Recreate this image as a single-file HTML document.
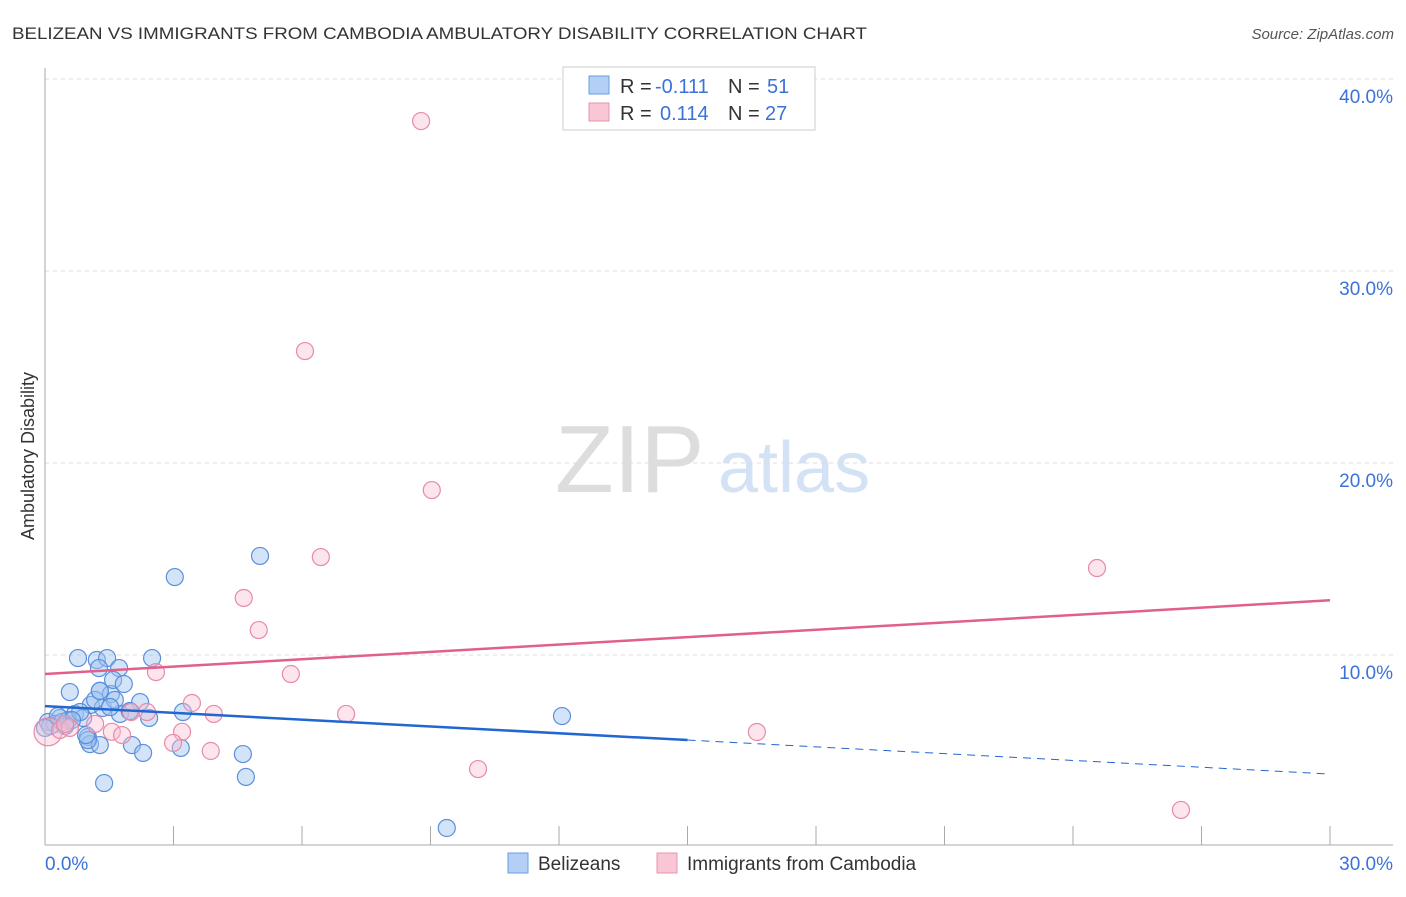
<!DOCTYPE html>
<html><head><meta charset="utf-8"><style>
body{margin:0;background:#fff;font-family:"Liberation Sans",sans-serif}
svg text{font-family:"Liberation Sans",sans-serif}
</style></head><body>
<svg width="1406" height="892" id="c">
<text x="12" y="39" font-size="17" fill="#333" textLength="855" lengthAdjust="spacingAndGlyphs">BELIZEAN VS IMMIGRANTS FROM CAMBODIA AMBULATORY DISABILITY CORRELATION CHART</text>
<text x="1394" y="39" font-size="15" fill="#555" text-anchor="end" font-style="italic">Source: ZipAtlas.com</text>
<text x="555" y="492" font-size="96" fill="#ddd" font-family="Liberation Serif">ZIP</text>
<text x="718" y="492" font-size="72" fill="#d4e2f5">atlas</text>
<text transform="translate(34,456) rotate(-90)" font-size="18" fill="#333" text-anchor="middle">Ambulatory Disability</text>
<g id="grid"></g><g id="marks"></g>
<g>
<rect x="563" y="67" width="252" height="63" fill="#fff" stroke="#ccc"/>
<rect x="589" y="76" width="20" height="18" fill="#b3cff5" stroke="#6a9ee0"/>
<rect x="589" y="103" width="20" height="18" fill="#f9c6d5" stroke="#e894ae"/>
<text x="620" y="93" font-size="20" fill="#333">R =</text><text x="655" y="93" font-size="20" fill="#3a72d8">-0.111</text>
<text x="728" y="93" font-size="20" fill="#333">N =</text><text x="767" y="93" font-size="20" fill="#3a72d8">51</text>
<text x="620" y="120" font-size="20" fill="#333">R =</text><text x="660" y="120" font-size="20" fill="#3a72d8">0.114</text>
<text x="728" y="120" font-size="20" fill="#333">N =</text><text x="765" y="120" font-size="20" fill="#3a72d8">27</text>
</g>
<g>
<rect x="508" y="853" width="20" height="20" fill="#b3cff5" stroke="#6a9ee0"/>
<text x="538" y="870" font-size="19" fill="#333">Belizeans</text>
<rect x="657" y="853" width="20" height="20" fill="#f9c6d5" stroke="#e894ae"/>
<text x="687" y="870" font-size="19" fill="#333">Immigrants from Cambodia</text>
</g>
</svg>
<script>
const yTicks=[10,20,30,40];
const xTickLabels=["0.0%","30.0%"];
const blueX=[0.77,1.21,1.45,2.5,1.26,1.73,0.58,1.28,1.54,1.59,1.84,2.22,1.07,1.35,1.75,1.98,2.43,3.22,0.7,0.35,0.07,0.23,0.4,0.54,0.89,0.12,1.0,1.05,1.28,2.03,2.29,3.17,4.62,4.69,1.38,3.03,5.02,12.07,9.38,1.0,0.96,0.82,0.63,1.17,0.47,1.98,1.63,1.28,0.0,0.3,1.52];
const blueY=[9.84,9.74,9.84,9.84,9.32,9.32,8.07,8.13,7.97,8.7,8.49,7.55,7.4,7.24,6.93,7.08,6.72,7.03,6.93,6.72,6.51,6.41,6.51,6.61,6.72,6.3,5.73,5.36,5.31,5.31,4.9,5.16,4.84,3.65,3.33,14.06,15.16,6.82,0.99,5.57,5.83,7.03,6.61,7.66,6.3,7.08,7.66,8.13,6.2,6.82,7.29];
const pinkX=[8.78,6.07,9.03,6.44,24.56,4.64,4.99,5.74,2.59,3.43,3.94,7.03,2.01,2.38,1.56,1.8,3.2,2.99,3.87,10.11,16.62,26.52,0.07,0.35,1.17,0.58,0.47];
const pinkY=[37.81,25.83,18.59,15.1,14.53,12.97,11.3,9.01,9.11,7.5,6.93,6.93,7.03,7.03,6.0,5.83,6.0,5.42,5.0,4.06,5.99,1.93,6.0,6.1,6.41,6.2,6.41];
const blueFit=[7.34,-0.118]; const pinkFit=[9.01,0.128];
const X=v=>45+v/30*1285, Y=v=>847-v*19.2;
const NS="http://www.w3.org/2000/svg";
const g=document.getElementById('grid'), m=document.getElementById('marks');
function el(t,a,p){const e=document.createElementNS(NS,t);for(const k in a)e.setAttribute(k,a[k]);p.appendChild(e);return e;}
yTicks.forEach(t=>{
 const l=el('line',{x1:45,x2:1393,y1:Y(t),y2:Y(t),stroke:'#ddd','stroke-dasharray':'4,4'},g);
 
 
 const tx=el('text',{x:1393,y:Y(t)+24,'font-size':19,fill:'#3a72d8','text-anchor':'end'},g);
 tx.textContent=t.toFixed(1)+'%';
 
 
});
const ax=el('line',{x1:45,x2:45,y1:68,y2:845,stroke:'#aaa'},g);


const bx=el('line',{x1:45,x2:1393,y1:845,y2:845,stroke:'#aaa'},g);


for(let i=0;i<=10;i++){const t=el('line',{x1:X(i*3),x2:X(i*3),y1:826,y2:845,stroke:'#aaa'},g);
 
 }
xTickLabels.forEach((s,i)=>{const t=el('text',{x:i?1393:45,y:870,'font-size':19,fill:'#3a72d8','text-anchor':i?'end':'start'},g);t.textContent=s;
 
 });
blueX.forEach((x,i)=>{const c=el('circle',{cx:X(x),cy:Y(blueY[i]),r:8.5,fill:'rgba(160,195,240,0.45)',stroke:'#5b8fdc','stroke-width':1.2},m);
 
 });
pinkX.forEach((x,i)=>{const c=el('circle',{cx:X(x),cy:Y(pinkY[i]),r:i==22?14:8.5,fill:'rgba(248,190,208,0.4)',stroke:'#e88aa8','stroke-width':1.2},m);
 
 });
const f=(p,x)=>p[0]+p[1]*x;
const b1=el('line',{x1:X(0),y1:Y(f(blueFit,0)),x2:X(15),y2:Y(f(blueFit,15)),stroke:'#2266d0','stroke-width':2.5},m);


const b2=el('line',{x1:X(15),y1:Y(f(blueFit,15)),x2:X(30),y2:Y(f(blueFit,30)),stroke:'#2266d0','stroke-width':1,'stroke-dasharray':'8,6'},m);


const p1=el('line',{x1:X(0),y1:Y(f(pinkFit,0)),x2:X(30),y2:Y(f(pinkFit,30)),stroke:'#e0608a','stroke-width':2.5},m);


</script>
</body></html>
